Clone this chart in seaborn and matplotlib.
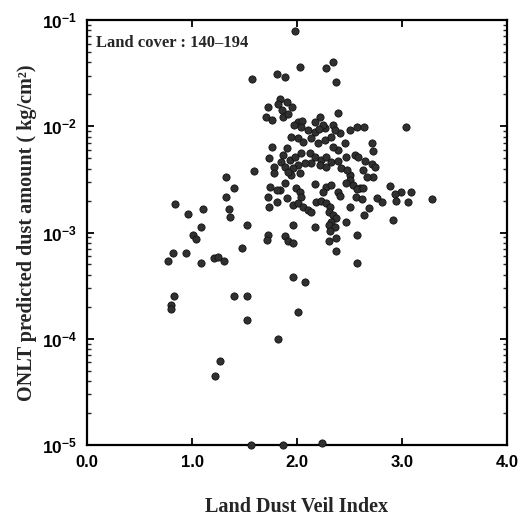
import numpy as np
import pandas as pd
import matplotlib
matplotlib.use("Agg")
import matplotlib.pyplot as plt
import seaborn as sns
from matplotlib.ticker import FixedLocator, LogLocator, NullFormatter

# ---- data ----
ldvi = [
    1.98, 1.57, 1.81, 1.89, 2.03, 2.28, 2.34, 2.37, 2.39, 3.04, 2.57, 2.64,
    1.84, 1.90, 1.95, 1.72, 1.70, 1.76, 1.86, 1.87, 1.91, 2.01, 1.97, 1.82,
    2.22, 2.17, 2.05, 2.34, 2.27, 2.41, 2.25, 2.04, 2.10, 2.17, 2.21, 2.36,
    2.50, 1.94, 2.01, 2.06, 2.13, 2.20, 2.27, 2.32, 1.90, 1.87, 1.85, 1.89,
    1.93, 1.98, 2.04, 2.12, 2.17, 2.23, 2.28, 2.32, 2.22, 2.28, 2.13, 2.08,
    2.01, 1.96, 1.94, 1.91, 2.03, 2.39, 2.46, 2.47, 2.42, 2.50, 2.50, 2.47,
    2.53, 2.55, 2.71, 2.72, 2.58, 2.65, 2.71, 2.74, 2.72, 2.67, 2.60, 2.17,
    2.28, 2.32, 2.25, 2.39, 2.41, 1.89, 1.84, 1.90, 1.99, 2.03, 2.04, 1.74,
    1.81, 1.72, 1.81, 1.73, 1.96, 2.01, 2.06, 2.10, 2.13, 2.18, 2.23, 2.28,
    2.31, 2.30, 2.34, 2.37, 2.32, 2.30, 2.36, 2.47, 2.50, 2.56, 1.96, 2.17,
    2.57, 2.63, 2.62, 2.69, 2.64, 2.76, 2.81, 2.89, 2.99, 2.93, 2.94, 3.09,
    3.06, 3.29, 2.91, 2.57, 2.37, 2.57, 2.31, 2.37, 2.30, 1.89, 1.91, 1.96,
    1.72, 1.71, 1.48, 1.52, 1.76, 1.73, 1.78, 1.78, 1.59, 1.32, 1.40, 1.32,
    1.35, 1.36, 0.84, 0.96, 1.10, 1.09, 1.01, 1.04, 0.82, 0.94, 0.77, 1.09,
    1.21, 1.25, 1.30, 1.40, 1.52, 0.83, 0.80, 0.80, 1.27, 1.22, 1.52, 1.96,
    2.08, 2.01, 1.82, 1.56, 1.87, 2.24, 2.34, 2.39, 2.48, 2.63,
]
dust = [
    7.9e-2, 2.8e-2, 3.1e-2, 2.9e-2, 3.6e-2, 3.5e-2, 4.0e-2, 2.6e-2, 1.33e-2, 9.8e-3, 9.8e-3, 9.8e-3,
    1.8e-2, 1.69e-2, 1.52e-2, 1.52e-2, 1.22e-2, 1.15e-2, 1.42e-2, 1.22e-2, 1.30e-2, 1.10e-2, 1.03e-2, 1.62e-2,
    1.22e-2, 1.10e-2, 1.12e-2, 1.03e-2, 9.6e-3, 8.6e-3, 1.03e-2, 9.8e-3, 9.2e-3, 8.8e-3, 9.4e-3, 9.2e-3,
    9.2e-3, 7.9e-3, 7.75e-3, 7.1e-3, 7.75e-3, 6.95e-3, 7.4e-3, 7.9e-3, 6.2e-3, 5.4e-3, 4.6e-3, 4.1e-3,
    4.8e-3, 5.1e-3, 5.6e-3, 5.6e-3, 5.1e-3, 4.8e-3, 5.1e-3, 4.6e-3, 4.3e-3, 4.1e-3, 4.5e-3, 4.5e-3,
    4.3e-3, 4.05e-3, 3.5e-3, 3.7e-3, 3.6e-3, 6.0e-3, 6.95e-3, 5.1e-3, 4.05e-3, 3.5e-3, 3.1e-3, 2.9e-3,
    2.8e-3, 5.4e-3, 6.95e-3, 5.85e-3, 5.1e-3, 4.7e-3, 4.4e-3, 4.1e-3, 3.3e-3, 3.3e-3, 2.6e-3, 2.86e-3,
    2.68e-3, 2.8e-3, 2.4e-3, 2.4e-3, 2.2e-3, 2.9e-3, 2.5e-3, 2.1e-3, 2.6e-3, 2.4e-3, 2.16e-3, 2.7e-3,
    2.5e-3, 2.16e-3, 1.94e-3, 1.74e-3, 1.82e-3, 1.9e-3, 1.74e-3, 1.63e-3, 1.56e-3, 1.94e-3, 2.0e-3, 1.9e-3,
    1.74e-3, 1.56e-3, 1.46e-3, 1.37e-3, 1.26e-3, 1.18e-3, 1.13e-3, 1.26e-3, 1.74e-3, 2.16e-3, 1.18e-3, 1.13e-3,
    2.57e-3, 2.6e-3, 2.07e-3, 1.7e-3, 1.46e-3, 2.1e-3, 1.94e-3, 2.74e-3, 2.4e-3, 2.3e-3, 2.0e-3, 2.4e-3,
    1.94e-3, 2.07e-3, 1.31e-3, 9.5e-4, 6.7e-4, 5.2e-4, 1.03e-3, 8.9e-4, 8.3e-4, 9.3e-4, 8.3e-4, 8.0e-4,
    9.5e-4, 8.5e-4, 7.1e-4, 1.18e-3, 6.4e-3, 5.0e-3, 4.1e-3, 3.6e-3, 3.8e-3, 3.3e-3, 2.6e-3, 2.16e-3,
    1.66e-3, 1.4e-3, 1.86e-3, 1.49e-3, 1.66e-3, 1.13e-3, 9.5e-4, 8.7e-4, 6.4e-4, 6.4e-4, 5.4e-4, 5.2e-4,
    5.75e-4, 5.9e-4, 5.4e-4, 2.5e-4, 2.5e-4, 2.5e-4, 2.1e-4, 1.9e-4, 6.2e-5, 4.5e-5, 1.5e-4, 3.8e-4,
    3.4e-4, 1.8e-4, 1.0e-4, 1.0e-5, 1.0e-5, 1.05e-5, 6.4e-3, 4.7e-3, 3.9e-3, 3.9e-3,
]
x_ticks = [0.0, 1.0, 2.0, 3.0, 4.0]
x_tick_labels = ["0.0", "1.0", "2.0", "3.0", "4.0"]
y_ticks = [1e-5, 1e-4, 1e-3, 1e-2, 1e-1]
y_tick_labels = [r"$\mathbf{10^{-5}}$", r"$\mathbf{10^{-4}}$", r"$\mathbf{10^{-3}}$",
                 r"$\mathbf{10^{-2}}$", r"$\mathbf{10^{-1}}$"]
annotation = "Land cover : 140\u2013194"
x_label = "Land Dust Veil Index"
y_label = "ONLT predicted dust amount ( kg/cm\u00b2)"

df = pd.DataFrame({"ldvi": ldvi, "dust": dust})

sns.set_style("ticks")
plt.rcParams["font.family"] = ["Liberation Sans", "DejaVu Sans"]
plt.rcParams["mathtext.fontset"] = "custom"
plt.rcParams["mathtext.rm"] = "Liberation Sans"
plt.rcParams["mathtext.bf"] = "Liberation Sans:bold"
plt.rcParams["mathtext.it"] = "Liberation Sans:italic"

fig = plt.figure(figsize=(5.22, 5.21), dpi=100)
ax = fig.add_axes([87 / 522, 1 - 445 / 521, 420 / 522, 425 / 521])

sns.scatterplot(data=df, x="ldvi", y="dust", ax=ax, s=27, color="#303030",
                edgecolor="#111111", linewidth=0.6, clip_on=False, zorder=3)

ax.set_yscale("log")
ax.set_xlim(0, 4)
ax.set_ylim(1e-5, 1e-1)

ax.xaxis.set_major_locator(FixedLocator(x_ticks))
ax.set_xticklabels(x_tick_labels, fontsize=12, fontweight="bold")
ax.yaxis.set_major_locator(FixedLocator(y_ticks))
ax.set_yticklabels(y_tick_labels, fontsize=12.5)
ax.yaxis.set_minor_locator(LogLocator(base=10, subs=np.arange(2, 10)))
ax.yaxis.set_minor_formatter(NullFormatter())

ax.tick_params(axis="both", which="major", direction="in", length=5, width=1.3,
               top=True, right=True, pad=7, colors="black")
ax.tick_params(axis="y", which="minor", direction="in", length=3, width=1.0,
               left=True, right=True)
for sp in ax.spines.values():
    sp.set_visible(True)
    sp.set_linewidth(1.6)
    sp.set_color("black")

serif = ["Liberation Serif", "DejaVu Serif"]
ax.set_xlabel(x_label, family=serif, fontsize=14.5, fontweight="bold", labelpad=20)
ax.set_ylabel(y_label, family=serif, fontsize=14.5, fontweight="bold", labelpad=4)
ax.text(0.022, 0.947, annotation, transform=ax.transAxes, family=serif,
        fontsize=12, fontweight="bold", va="center", ha="left")

fig.savefig("out.png", dpi=100)
